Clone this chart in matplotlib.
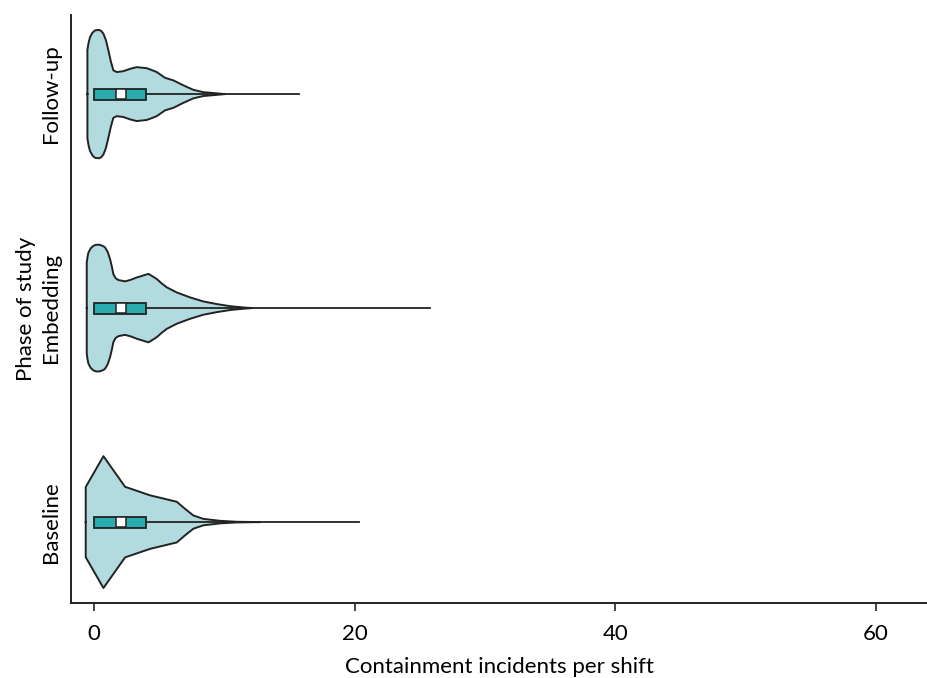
import matplotlib
matplotlib.use("Agg")
import matplotlib.pyplot as plt
import numpy as np

plt.rcParams['font.family'] = ['Lato', 'DejaVu Sans']

categories = ["Baseline", "Embedding", "Follow-up"]

# violin outline profiles: x values and half-widths (fraction of category spacing)
baseline_x = [-0.64, -0.64, 0.72, 2.38, 4.30, 6.35, 6.98, 7.62, 8.39, 9.67, 10.95, 12.74]
baseline_w = [0.0, 0.164, 0.308, 0.165, 0.125, 0.095, 0.062, 0.031, 0.015, 0.006, 0.0015, 0.0]

embedding_x = [-0.56, -0.56, -0.50, -0.43, -0.25, -0.05, 0.15, 0.41, 0.65, 0.84, 1.05, 1.23, 1.38,
               1.48, 1.65, 1.87, 2.38, 2.80, 3.27, 3.75, 4.17, 4.50, 4.81, 5.20, 5.58, 6.35, 7.37,
               8.39, 9.41, 10.44, 11.46, 12.10]
embedding_w = [0.0, 0.213, 0.240, 0.260, 0.280, 0.291, 0.296, 0.296, 0.291, 0.284, 0.262, 0.229, 0.190,
               0.159, 0.140, 0.131, 0.125, 0.132, 0.143, 0.152, 0.160, 0.148, 0.136, 0.115, 0.097,
               0.073, 0.050, 0.031, 0.019, 0.009, 0.003, 0.0]

followup_x = [-0.51, -0.51, -0.42, -0.31, -0.12, 0.08, 0.38, 0.55, 0.72, 0.92, 1.10, 1.30, 1.48,
              1.74, 2.25, 2.76, 3.27, 4.04, 4.40, 4.81, 5.45, 6.09, 6.85, 7.62, 8.39, 9.16, 10.05]
followup_w = [0.0, 0.207, 0.240, 0.266, 0.287, 0.298, 0.300, 0.295, 0.282, 0.250, 0.204, 0.150, 0.111,
              0.103, 0.107, 0.118, 0.126, 0.121, 0.113, 0.103, 0.076, 0.064, 0.041, 0.020, 0.009,
              0.005, 0.0]

# box statistics
q1 = [0, 0, 0]
q3 = [4, 4, 4]
centre = [2.1, 2.1, 2.1]
whisker_max = [20.3, 25.8, 15.7]

profiles = [(baseline_x, baseline_w), (embedding_x, embedding_w), (followup_x, followup_w)]

violin_fill = "#b2dbdf"
box_fill = "#2aacae"
edge = "#222222"

fig, ax = plt.subplots(figsize=(9.28, 6.78), dpi=100)
fig.subplots_adjust(left=0.0765, right=1.0, top=0.978, bottom=0.11)

for i, (xs, ws) in enumerate(profiles):
    xs = np.array(xs)
    ws = np.array(ws)
    ax.fill_between(xs, i - ws, i + ws, facecolor=violin_fill, edgecolor="none", zorder=1)
    outline_x = np.concatenate([xs, xs[::-1]])
    outline_y = np.concatenate([i + ws, (i - ws)[::-1]])
    ax.plot(outline_x, outline_y, color=edge, lw=1.4, zorder=2, solid_joinstyle="round")
    # whisker
    ax.plot([q3[i], whisker_max[i]], [i, i], color=edge, lw=1.3, zorder=3)
    # box
    bh = 0.026
    ax.add_patch(plt.Rectangle((q1[i], i - bh), q3[i] - q1[i], 2 * bh,
                               facecolor=box_fill, edgecolor=edge, lw=1.3, zorder=4))
    ax.plot([centre[i]], [i], marker="s", ms=6.5, mfc="white", mec=edge, mew=1.1, zorder=5)

ax.set_xlim(-1.77, 64.0)
ax.set_ylim(-0.38, 2.37)
ax.set_xticks([0, 20, 40, 60])
ax.set_yticks([0, 1, 2])
ax.set_yticklabels(categories, rotation=90, va="center", ha="right")
ax.tick_params(axis="y", length=0, labelsize=16, pad=7)
ax.tick_params(axis="x", length=6, width=1.2, labelsize=16, color=edge, pad=9)
ax.set_xlabel("Containment incidents per shift", fontsize=16, labelpad=9)
ax.set_ylabel("Phase of study", fontsize=16, labelpad=4)
ax.spines["top"].set_visible(False)
ax.spines["right"].set_visible(False)
ax.spines["left"].set_linewidth(1.4)
ax.spines["bottom"].set_linewidth(1.4)
ax.spines["left"].set_color(edge)
ax.spines["bottom"].set_color(edge)

fig.savefig("out.png", dpi=100)
